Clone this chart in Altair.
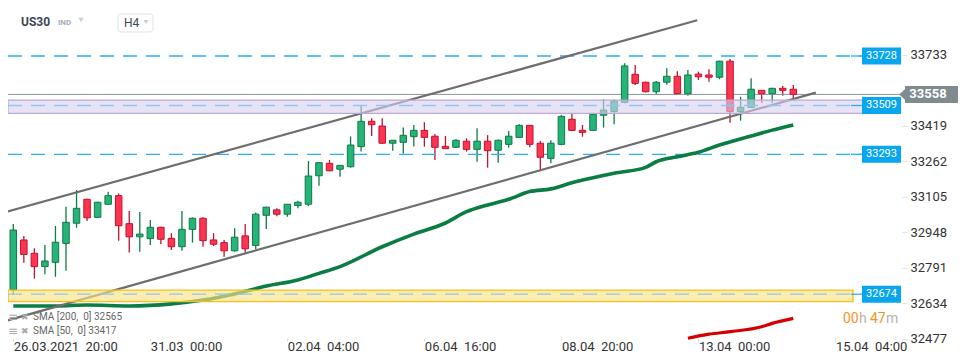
import altair as alt
import pandas as pd

# ---------------- data ----------------
opens = [32693, 32914, 32855, 32796, 32815, 32899, 32988, 33094, 33014, 33072,
         33110, 32986, 32928, 32920, 32970, 32921, 32884, 32961, 33010, 32914,
         32902, 32866, 32932, 32890, 33023, 33047, 33028, 33066, 33072, 33198,
         33253, 33227, 33238, 33327, 33439, 33418, 33342, 33346, 33371, 33399,
         33373, 33328, 33324, 33351, 33315, 33351, 33311, 33337, 33368, 33421,
         33342, 33275, 33337, 33448, 33399, 33399, 33466, 33482, 33523, 33647,
         33612, 33570, 33612, 33638, 33561, 33648, 33644, 33634, 33705, 33482,
         33501, 33576, 33561, 33585, 33581]
highs = [32985, 32932, 32877, 32892, 32976, 33061, 33135, 33096, 33083, 33127,
         33120, 33042, 33038, 33002, 32972, 32944, 33042, 33014, 33014, 32944,
         32914, 32966, 32985, 33036, 33061, 33054, 33072, 33088, 33263, 33258,
         33268, 33244, 33372, 33508, 33452, 33452, 33355, 33412, 33423, 33435,
         33383, 33374, 33361, 33364, 33408, 33378, 33359, 33396, 33426, 33423,
         33352, 33355, 33466, 33471, 33423, 33476, 33536, 33536, 33696, 33688,
         33614, 33617, 33674, 33660, 33666, 33659, 33669, 33707, 33715, 33548,
         33629, 33578, 33587, 33595, 33600]
lows = [32670, 32813, 32743, 32762, 32751, 32778, 32968, 32998, 33012, 33070,
        32911, 32858, 32862, 32892, 32896, 32870, 32866, 32902, 32884, 32887,
        32840, 32862, 32858, 32873, 32963, 33019, 33017, 33054, 33064, 33154,
        33218, 33194, 33234, 33305, 33374, 33340, 33309, 33297, 33327, 33327,
        33268, 33316, 33322, 33305, 33260, 33234, 33256, 33322, 33366, 33324,
        33227, 33253, 33333, 33397, 33371, 33397, 33411, 33426, 33519, 33600,
        33566, 33560, 33601, 33559, 33552, 33622, 33614, 33625, 33433, 33442,
        33499, 33521, 33521, 33552, 33536]
closes = [32958, 32850, 32796, 32821, 32904, 32992, 33054, 33012, 33081, 33110,
          32977, 32928, 32940, 32970, 32917, 32884, 32961, 33010, 32911, 32895,
          32866, 32926, 32875, 33028, 33059, 33028, 33072, 33081, 33197, 33256,
          33220, 33244, 33334, 33439, 33424, 33342, 33355, 33377, 33399, 33368,
          33324, 33318, 33355, 33315, 33351, 33309, 33355, 33373, 33421, 33337,
          33280, 33342, 33461, 33399, 33390, 33470, 33489, 33529, 33684, 33607,
          33570, 33612, 33638, 33561, 33644, 33636, 33634, 33705, 33482, 33501,
          33581, 33561, 33585, 33576, 33558]

sma50_idx = [0, 4, 7, 11, 15, 18, 21, 24, 27, 29, 31, 35, 38, 41, 43, 45, 47, 49,
             51, 53, 55, 57, 60, 61, 63, 65, 67, 70, 72, 74]
sma50_val = [32622, 32622, 32626, 32622, 32631, 32648, 32675, 32710, 32737, 32766,
             32796, 32884, 32940, 32989, 33039, 33069, 33094, 33128, 33140, 33167,
             33189, 33209, 33235, 33260, 33282, 33302, 33334, 33374, 33400, 33423]
sma200_idx = [64, 66, 68, 71, 72, 74]
sma200_val = [32479, 32497, 32508, 32530, 32545, 32567]

chan_up_idx = [-0.78, 64.89]
chan_up_val = [33037, 33886]
chan_lo_idx = [-0.78, 76.14]
chan_lo_val = [32555, 33566]

level_values = [33728, 33509, 33293, 32674]
level_labels = ["33728", "33509", "33293", "32674"]
purple_band = [33474, 33533]
yellow_band = [32641, 32692]
last_price = 33558

y_ticks = [32477, 32634, 32791, 32948, 33105, 33262, 33419, 33576, 33733]
x_tick_idx = [0, 13, 26, 39, 52, 65, 78]
x_tick_labels = ["26.03.2021\u00a0\u00a020:00", "31.03\u00a0\u00a000:00", "02.04\u00a0\u00a004:00",
                 "06.04\u00a0\u00a016:00", "08.04\u00a0\u00a020:00", "13.04\u00a0\u00a000:00",
                 "15.04\u00a0\u00a004:00"]
legend_labels = ["SMA [200,\u00a0 0] 32565", "SMA [50,\u00a0 0] 33417"]
countdown_parts = ["00", "h", "47", "m"]

# ---------------- setup ----------------
W, H = 894, 340
FONT = "Roboto"
xs = alt.Scale(domain=[-0.028, 83.84], nice=False, zero=False)
ys = alt.Scale(domain=[32435.9, 33940.4], nice=False, zero=False)

UP_FILL, UP_LINE = "#27b479", "#0f7a46"
DN_FILL, DN_LINE = "#fd3550", "#c11231"

candles = pd.DataFrame({"idx": list(range(len(opens))), "open": opens, "high": highs,
                        "low": lows, "close": closes})
candles["dir"] = ["up" if c >= o else "down" for o, c in zip(opens, closes)]

label_expr = " : ".join(f"datum.value == {i} ? '{t}'" for i, t in zip(x_tick_idx, x_tick_labels)) + " : ''"

x_axis = alt.Axis(values=x_tick_idx, labelExpr=label_expr, orient="bottom", offset=-10,
                  tickSize=3, tickColor="#dddddd", domain=False, grid=False,
                  labelAlign="left", labelBaseline="middle", labelPadding=5,
                  labelFont=FONT, labelFontSize=13, labelColor="#333333",
                  labelOverlap=False, labelFlush=False, title=None)
y_axis = alt.Axis(values=y_ticks, format="d", orient="right", domain=False, grid=False,
                  tickSize=5, tickColor="#e3e3e3", labelPadding=3, labelFont=FONT,
                  labelFontSize=13, labelColor="#333333", labelOverlap=False,
                  labelFlush=False, title=None)

dir_fill = alt.Scale(domain=["up", "down"], range=[UP_FILL, DN_FILL])
dir_line = alt.Scale(domain=["up", "down"], range=[UP_LINE, DN_LINE])

base = alt.Chart(candles)

wicks = base.mark_rule(strokeWidth=1.3).encode(
    x=alt.X("idx:Q", scale=xs, axis=x_axis),
    y=alt.Y("low:Q", scale=ys, axis=y_axis),
    y2="high:Q",
    color=alt.Color("dir:N", scale=dir_line, legend=None),
)
bodies = base.mark_bar(width=6.5, strokeWidth=1).encode(
    x=alt.X("idx:Q", scale=xs, title=None),
    y=alt.Y("open:Q", scale=ys, title=None),
    y2="close:Q",
    fill=alt.Fill("dir:N", scale=dir_fill, legend=None),
    stroke=alt.Stroke("dir:N", scale=dir_line, legend=None),
)

price_line = alt.Chart(pd.DataFrame({"p": [last_price]})).mark_rule(
    color="#8a969a", strokeWidth=1).encode(
    x=alt.value(0), x2=alt.value(893), y=alt.Y("p:Q", scale=ys, title=None))

lv = pd.DataFrame({"level": level_values, "label": level_labels})
dashed_out = alt.Chart(lv[lv.level.isin([33728, 33293])]).mark_rule(
    color="#29b0f0", strokeWidth=1.3, strokeDash=[14, 9]).encode(
    x=alt.value(0), x2=alt.value(855), y=alt.Y("level:Q", scale=ys, title=None))
dashed_in = alt.Chart(lv[lv.level.isin([33509, 32674])]).mark_rule(
    color="#8ec8f0", strokeWidth=1.3, strokeDash=[14, 9]).encode(
    x=alt.value(0), x2=alt.value(845), y=alt.Y("level:Q", scale=ys, title=None))
connect = alt.Chart(lv).mark_rule(color="#29b0f0", strokeWidth=1.3).encode(
    x=alt.value(843), x2=alt.value(855), y=alt.Y("level:Q", scale=ys, title=None))

chan = pd.DataFrame({"idx": chan_up_idx + chan_lo_idx, "val": chan_up_val + chan_lo_val,
                     "g": ["u", "u", "l", "l"]})
channels = alt.Chart(chan).mark_line(color="#6e6e6e", strokeWidth=2.2, clip=True).encode(
    x=alt.X("idx:Q", scale=xs, title=None), y=alt.Y("val:Q", scale=ys, title=None),
    detail="g:N")

sma50 = alt.Chart(pd.DataFrame({"idx": sma50_idx, "val": sma50_val})).mark_line(
    color="#0a7c44", strokeWidth=3.6, interpolate="monotone").encode(
    x=alt.X("idx:Q", scale=xs, title=None), y=alt.Y("val:Q", scale=ys, title=None))
sma200 = alt.Chart(pd.DataFrame({"idx": sma200_idx, "val": sma200_val})).mark_line(
    color="#d40000", strokeWidth=3.2, interpolate="monotone").encode(
    x=alt.X("idx:Q", scale=xs, title=None), y=alt.Y("val:Q", scale=ys, title=None))

bands = pd.DataFrame({"lo": [purple_band[0], yellow_band[0]], "hi": [purple_band[1], yellow_band[1]],
                      "kind": ["purple", "yellow"]})
band_purple = alt.Chart(bands[bands.kind == "purple"]).mark_rect(
    fill="#d9d0ec", fillOpacity=0.6, stroke="#b8aad8", strokeWidth=1.2).encode(
    x=alt.value(0), x2=alt.value(855), y=alt.Y("lo:Q", scale=ys, title=None), y2="hi:Q")
band_yellow = alt.Chart(bands[bands.kind == "yellow"]).mark_rect(
    fill="#fbe286", fillOpacity=0.65, stroke="#f1c21b", strokeWidth=1.4).encode(
    x=alt.value(0), x2=alt.value(845), y=alt.Y("lo:Q", scale=ys, title=None), y2="hi:Q")

tags = alt.Chart(lv).mark_rule(color="#08a6ee", strokeWidth=17, strokeCap="butt").encode(
    x=alt.value(854), x2=alt.value(893), y=alt.Y("level:Q", scale=ys, title=None))
tag_text = alt.Chart(lv).mark_text(font=FONT, fontSize=11, color="white").encode(
    x=alt.value(873.5), y=alt.Y("level:Q", scale=ys, title=None), text="label:N")

lp = pd.DataFrame({"p": [last_price], "t": [str(last_price)]})
gray_tag = alt.Chart(lp).mark_rule(color="#7f8b8f", strokeWidth=17, strokeCap="butt").encode(
    x=alt.value(897), x2=alt.value(950), y=alt.Y("p:Q", scale=ys, title=None))
gray_arrow = alt.Chart(lp).mark_point(shape="M 0.3 -1 L -0.8 0 L 0.3 1 Z", size=289,
                                     filled=True, color="#7f8b8f", opacity=1).encode(
    x=alt.value(898), y=alt.Y("p:Q", scale=ys, title=None))
gray_text = alt.Chart(lp).mark_text(font=FONT, fontSize=13, fontWeight="bold", color="white").encode(
    x=alt.value(920), y=alt.Y("p:Q", scale=ys, title=None), text="t:N")

# header
one = pd.DataFrame({"a": [0]})
hdr = [
    alt.Chart(one).mark_text(font=FONT, fontSize=12, fontWeight="bold", color="#3b4754",
                             align="left").encode(x=alt.value(13), y=alt.value(14), text=alt.value("US30")),
    alt.Chart(one).mark_text(font=FONT, fontSize=8, fontWeight="bold", color="#a3aeb9",
                             align="left").encode(x=alt.value(50), y=alt.value(15), text=alt.value("IND")),
    alt.Chart(one).mark_point(shape="triangle-down", filled=True, size=28, color="#c9ced3",
                              opacity=1).encode(x=alt.value(73), y=alt.value(12)),
    alt.Chart(one).mark_rect(fill="white", stroke="#dfe3e7", strokeWidth=1, cornerRadius=3).encode(
        x=alt.value(110), x2=alt.value(145), y=alt.value(6), y2=alt.value(24)),
    alt.Chart(one).mark_text(font=FONT, fontSize=12, color="#3b4754", align="left").encode(
        x=alt.value(116), y=alt.value(15), text=alt.value("H4")),
    alt.Chart(one).mark_point(shape="triangle-down", filled=True, size=24, color="#c9ced3",
                              opacity=1).encode(x=alt.value(138), y=alt.value(14)),
]

# legend
leg = pd.DataFrame({"t": legend_labels, "yy": [309, 323]})
leg_text = alt.Chart(leg).mark_text(font=FONT, fontSize=10, color="#666666", align="left").encode(
    x=alt.value(25), y=alt.Y("yy:Q", scale=None), text="t:N")
leg_icon = alt.Chart(leg).mark_text(font="DejaVu Sans", fontSize=12, color="#a9a9a9", align="left").encode(
    x=alt.value(0), y=alt.Y("yy:Q", scale=None), text=alt.value("\u2261"))
leg_x = alt.Chart(leg).mark_text(font="DejaVu Sans", fontSize=9, color="#a9a9a9", align="left").encode(
    x=alt.value(13), y=alt.Y("yy:Q", scale=None), text=alt.value("\u2716"))

# countdown
cd = pd.DataFrame({"t": countdown_parts, "xx": [835, 851, 862, 878], "c": ["o", "g", "o", "g"]})
countdown = alt.Chart(cd).mark_text(font=FONT, fontSize=14, align="left").encode(
    x=alt.X("xx:Q", scale=None), y=alt.value(311), text="t:N",
    color=alt.Color("c:N", scale=alt.Scale(domain=["o", "g"], range=["#f7941d", "#b3b3b3"]), legend=None))

chart = alt.layer(
    wicks, price_line, dashed_out, sma200, sma50, bodies, channels,
    band_purple, band_yellow, dashed_in, connect, tags, tag_text,
    gray_tag, gray_arrow, gray_text, *hdr, leg_icon, leg_x, leg_text, countdown
).resolve_scale(color="independent", fill="independent", stroke="independent").properties(
    width=W, height=H,
    autosize=alt.AutoSizeParams(type="none"),
    padding={"left": 0, "top": 0, "right": 60, "bottom": 8},
    background="white",
).configure_view(stroke=None)

chart.save("out.html", embed_options={"renderer": "svg", "actions": False})
